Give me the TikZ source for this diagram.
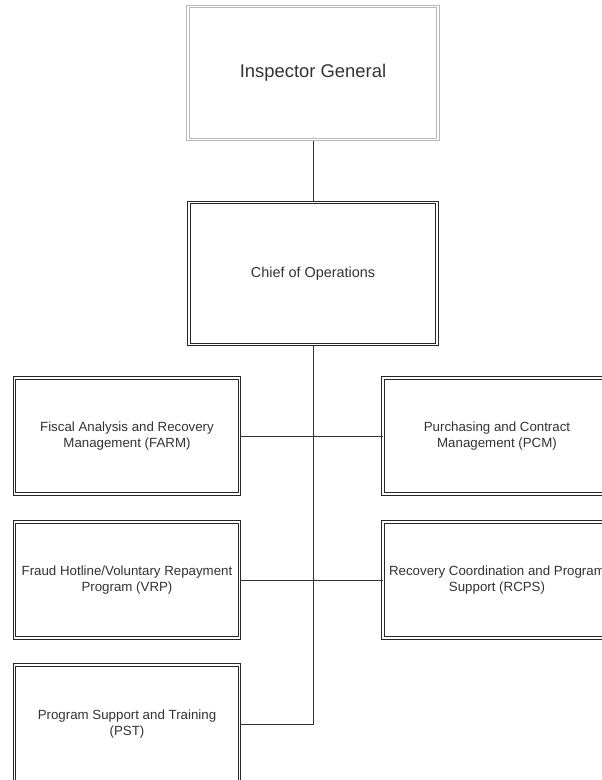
\documentclass[tikz,border=0pt]{standalone}
\usepackage{fontspec}
\setmainfont{Liberation Sans}
\usetikzlibrary{positioning}
\tikzset{every picture/.style={line width=1pt}}

\begin{document}
\begin{tikzpicture}[x=1pt, y=-1pt,
    topbox/.style={draw=gray!55, line width=1.1pt, double=white, double distance=1.3pt,
        fill=white, text=black!80, minimum width=250pt, minimum height=133pt,
        font=\fontsize{18.4}{22}\selectfont},
    chiefbox/.style={draw=black!85, line width=0.9pt, double=white, double distance=1.3pt,
        fill=white, text=black!80, minimum width=248pt, minimum height=142pt,
        font=\fontsize{14.4}{17}\selectfont},
    unitbox/.style={draw=black!85, line width=0.9pt, double=white, double distance=1.3pt,
        fill=white, text=black!80, align=center, minimum width=225pt, minimum height=116pt,
        font=\fontsize{13.3}{15.8}\selectfont},
    link/.style={draw=black!80, line width=1pt}]
        \useasboundingbox (0,0) rectangle (602,780);
        \clip (0,0) rectangle (602,780);
        \fill[white] (0,0) rectangle (602,780);
        % connectors first, boxes on top
        \coordinate (igc) at (313, 73);
        \coordinate (chc) at (313, 273.5);
        \draw[link] (igc) -- (chc);
        \node[topbox] (ig) at (igc) {Inspector General};
        \node[chiefbox] (chief) at (chc) {Chief of Operations};
        \node[unitbox] (farm) at (127, 436) {Fiscal Analysis and Recovery\\Management (FARM)};
        \node[unitbox, minimum width=228pt] (pcm) at (497, 436) {Purchasing and Contract\\Management (PCM)};
        \node[unitbox] (vrp) at (127, 580) {Fraud Hotline/Voluntary Repayment\\Program (VRP)};
        \node[unitbox, minimum width=228pt] (rcps) at (497, 580) {Recovery Coordination and Program\\Support (RCPS)};
        \node[unitbox, minimum height=118pt] (pst) at (127, 724) {Program Support and Training\\(PST)};
        \draw[link] (chief.south) |- (pst.east);
        \draw[link] (farm.east) -- (pcm.west);
        \draw[link] (vrp.east) -- (rcps.west);
    \end{tikzpicture}
\end{document}
